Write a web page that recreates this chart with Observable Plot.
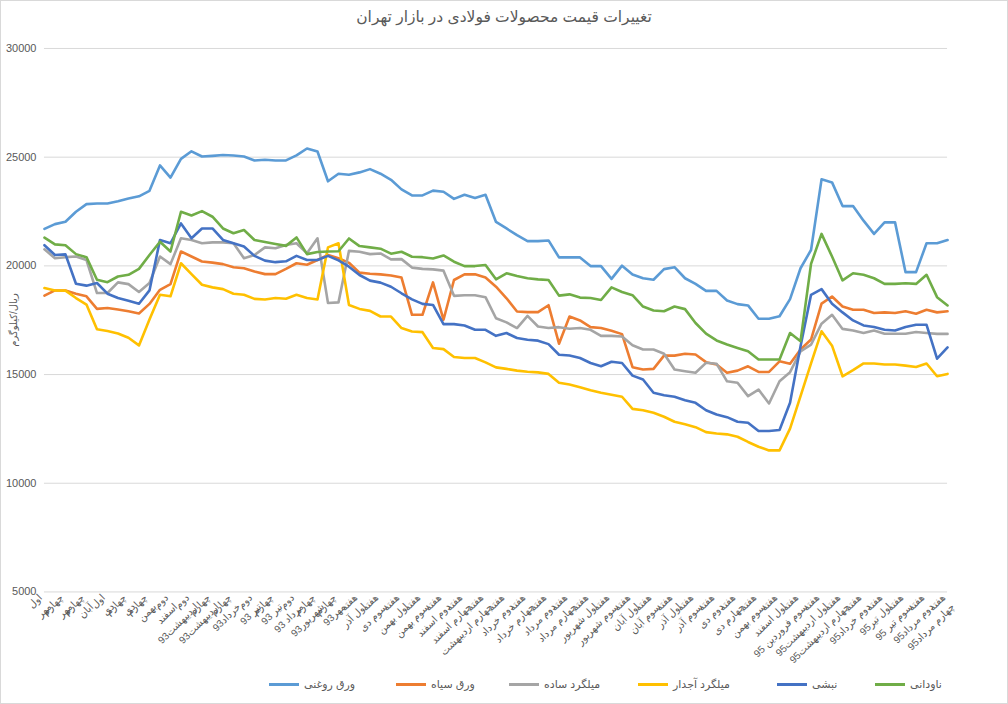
<!DOCTYPE html>
<html><head><meta charset="utf-8">
<script src="https://cdn.jsdelivr.net/npm/d3@7"></script>
<script src="https://cdn.jsdelivr.net/npm/@observablehq/plot@0.6"></script>
<style>
body{margin:0;background:#fff;}
#chart{position:relative;width:1008px;height:704px;box-sizing:border-box;border:1px solid #d9d9d9;font-family:"Liberation Sans","DejaVu Sans",sans-serif;overflow:hidden;background:#fff}
#title{position:absolute;top:7px;left:0;width:100%;text-align:center;font-size:15.5px;color:#595959;}
#plot{position:absolute;top:29px;left:-1px;}
#ytitle{position:absolute;left:12px;top:319px;transform:translate(-50%,-50%) rotate(-90deg);font-size:10px;color:#595959;white-space:nowrap}
.leg{position:absolute;top:676px;height:14px;display:flex;align-items:center;font-size:11px;color:#595959;white-space:nowrap}
.leg span.sw{display:inline-block;width:30px;height:3px;margin-right:5px}
</style>
</head><body>
<div id="chart">
  <div id="title">تغییرات قیمت محصولات فولادی در بازار تهران</div>
  <div id="plot"></div>
  <div id="ytitle">ریال/کیلوگرم</div>
  <div id="legend"></div>
</div>
<script>
const seriesNames = ["ورق روغنی","ورق سیاه","میلگرد ساده","میلگرد آجدار","نبشی","ناودانی"];
const seriesColors = ["#5B9BD5","#ED7D31","#A5A5A5","#FFC000","#4472C4","#70AD47"];

const xLabels = ["اول مهر","چهارم مهر","چهارم آبان","اول دی","چهارم دی","چهارم بهمن","دوم اسفند","دوم اردیبهشت93","چهارم اردیبهشت93","چهارم خرداد93","دوم تیر 93","چهارم تیر 93","دوم مرداد 93","چهارم شهریور93","چهارم مهر93","هفته اول آذر","هفته سوم دی","هفته اول بهمن","هفته سوم بهمن","هفته دوم اسفند","هفته چهارم اسفند","هفته چهارم اردیبهشت","هفته دوم خرداد","هفته چهارم خرداد","هفته دوم مرداد","هفته چهارم مرداد","هفته اول شهریور","هفته سوم شهریور","هفته اول آبان","هفته سوم آبان","هفته اول آذر","هفته سوم آذر","هفته دوم دی","هفته چهارم دی","هفته سوم بهمن","هفته اول اسفند","هفته سوم فروردین 95","هفته اول اردیبهشت95","هفته چهارم اردیبهشت95","هفته دوم خرداد95","هفته اول تیر95","هفته سوم تیر 95","هفته دوم مرداد95","هفته چهارم مرداد95"];

const yTicks = [5000,10000,15000,20000,25000,30000];

const varaghRoghani = [21700,21920,22030,22490,22840,22870,22870,22970,23100,23200,23450,24620,24060,24920,25270,25030,25060,25100,25080,25030,24850,24880,24850,24850,25080,25400,25260,23890,24240,24190,24300,24450,24240,23960,23520,23240,23240,23460,23410,23080,23270,23120,23270,22020,21720,21410,21140,21140,21170,20390,20390,20390,19990,19990,19400,20010,19600,19430,19360,19850,19940,19430,19170,18850,18850,18410,18240,18180,17570,17570,17680,18470,19890,20730,23980,23840,22750,22750,22080,21470,22000,22000,19710,19710,21040,21040,21190];
const varaghSiah = [18630,18870,18870,18720,18600,18020,18060,17990,17910,17810,18250,18900,19160,20660,20430,20200,20150,20080,19940,19890,19740,19620,19620,19860,20120,20050,20270,20500,20350,20140,19690,19640,19610,19560,19460,17750,17750,19240,17520,19350,19610,19610,19460,19040,18510,17900,17870,17870,18190,16420,17670,17490,17180,17140,17010,16860,15340,15230,15260,15870,15870,15960,15920,15570,15460,15080,15180,15380,15120,15120,15610,15500,16150,16610,18260,18590,18130,17980,17980,17830,17860,17830,17910,17800,17980,17860,17910];
const milgerdSadeh = [20760,20350,20400,20430,20270,18750,18750,19240,19160,18800,19210,20430,20080,21270,21190,21040,21080,21080,21040,20350,20500,20850,20810,20960,21040,20580,21270,18290,18320,20690,20650,20540,20570,20300,20310,19920,19860,19840,19780,18620,18650,18650,18560,17590,17400,17140,17700,17210,17140,17180,17110,17140,17060,16780,16780,16750,16350,16150,16150,15960,15230,15150,15080,15540,15500,14690,14620,14010,14310,13670,14690,15110,16070,16380,17340,17750,17100,17030,16910,17030,16880,16880,16880,16960,16910,16870,16870];
const milgerdAjdar = [18980,18870,18860,18520,18220,17080,17000,16890,16690,16340,17530,18670,18600,20120,19620,19130,19010,18930,18720,18670,18480,18450,18520,18490,18670,18520,18450,20850,21040,18200,18020,17930,17670,17670,17140,16980,16950,16220,16170,15810,15760,15760,15560,15330,15260,15180,15130,15100,15030,14620,14540,14420,14280,14160,14070,13980,13420,13360,13240,13060,12830,12710,12580,12350,12290,12250,12140,11900,11680,11510,11510,12510,14010,15510,16990,16330,14920,15200,15510,15510,15460,15460,15410,15350,15510,14920,15030];
const nabshi = [20950,20500,20530,19180,19090,19210,18720,18520,18400,18260,18870,21190,21040,21950,21270,21720,21720,21190,21040,20890,20460,20240,20170,20210,20460,20270,20270,20460,20250,19960,19580,19320,19230,19040,18740,18460,18250,18200,17320,17320,17260,17060,17060,16780,16910,16680,16600,16560,16400,15910,15880,15760,15530,15380,15590,15530,14950,14770,14160,14050,13980,13820,13700,13360,13160,13040,12830,12780,12400,12400,12450,13700,16300,18670,18930,18260,17860,17490,17260,17190,17060,17030,17190,17290,17290,15730,16250];
const navdani = [21300,20990,20950,20540,20400,19360,19250,19510,19590,19860,20500,21110,20660,22490,22320,22520,22260,21720,21500,21650,21190,21100,21010,20920,21310,20540,20640,20660,20670,21260,20910,20850,20790,20560,20650,20420,20400,20340,20480,20190,19990,19990,20040,19380,19660,19530,19430,19380,19350,18630,18690,18540,18520,18430,19010,18800,18650,18130,17950,17910,18130,18010,17370,16880,16570,16380,16220,16070,15690,15690,15690,16910,16530,20090,21470,20430,19330,19660,19590,19430,19170,19170,19200,19170,19590,18560,18180];

const seriesValues = [varaghRoghani, varaghSiah, milgerdSadeh, milgerdAjdar, nabshi, navdani];

const rows = seriesValues.flatMap((vals, si) => vals.map((v, i) => ({i, v, name: seriesNames[si]})));
const nPts = varaghRoghani.length;
const tickIdx = d3.range(0, nPts, 2);

function wrap(s){ const k = s.indexOf(" "); return k < 0 ? s : s.slice(0,k) + "\n" + s.slice(k+1); }

const chart = Plot.plot({
  width: 1008,
  height: 640,
  marginLeft: 44,
  marginRight: 60,
  marginTop: 18,
  marginBottom: 78,
  style: {fontFamily: '"Liberation Sans","DejaVu Sans",sans-serif', background: "transparent"},
  x: {type: "linear", domain: [0, nPts - 1], axis: null},
  y: {domain: [5000, 30000], axis: null},
  color: {domain: seriesNames, range: seriesColors},
  marks: [
    Plot.gridY(yTicks, {stroke: "#d9d9d9", strokeOpacity: 1, strokeWidth: 1}),
    Plot.axisY(yTicks, {tickSize: 0, tickPadding: 8, fontSize: 11, fill: "#595959", tickFormat: d => String(d), label: null}),
    Plot.axisX(tickIdx, {tickSize: 0, tickPadding: 8, tickRotate: -45, fontSize: 10, fill: "#595959", lineHeight: 1.3, tickFormat: i => wrap(xLabels[i / 2]), label: null}),
    Plot.line(rows, {x: "i", y: "v", z: "name", stroke: "name", strokeWidth: 2.6, strokeLinejoin: "round", strokeLinecap: "round"})
  ]
});
document.getElementById("plot").appendChild(chart);

const legPos = [268, 395, 508, 637, 776, 874];
const leg = document.getElementById("legend");
seriesNames.forEach((n, k) => {
  const d = document.createElement("div");
  d.className = "leg";
  d.style.left = legPos[k] + "px";
  d.innerHTML = `<span class="sw" style="background:${seriesColors[k]}"></span><span>${n}</span>`;
  leg.appendChild(d);
});
</script>
</body></html>
